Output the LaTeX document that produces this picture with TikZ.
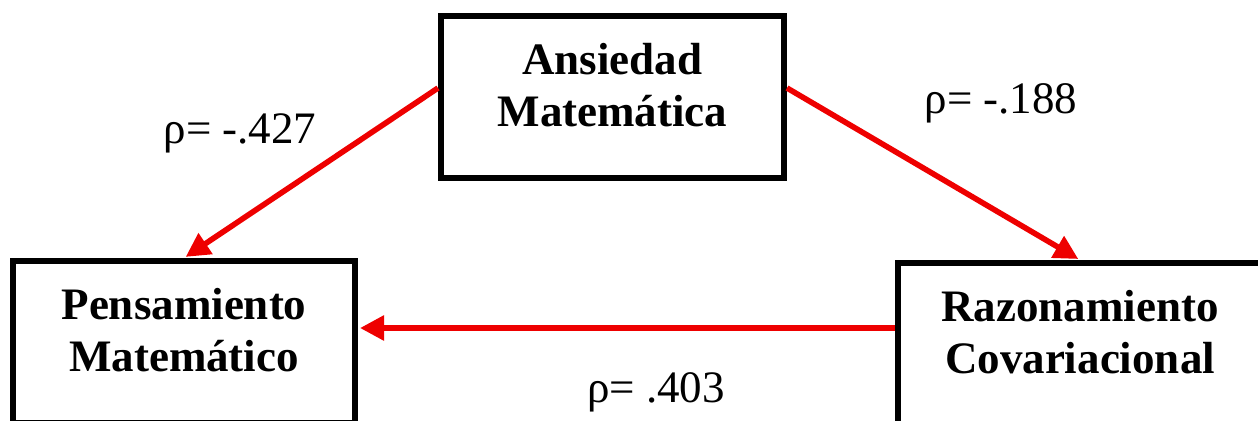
\documentclass[tikz,border=0pt]{standalone}
\usepackage{fontspec}
\setmainfont{Liberation Serif}
\usetikzlibrary{arrows.meta}
\definecolor{Ink}{HTML}{000000}
\definecolor{Wire}{HTML}{EE0000}

\begin{document}
\begin{tikzpicture}[
  x=0.5pt, y=-0.5pt,
  var/.style={draw=Ink, line width=3pt, minimum width=171.5pt, minimum height=81pt, inner sep=0pt, align=center, text depth=12pt, font=\fontsize{22.5}{26}\selectfont\bfseries},
  arrow/.style={-{Triangle[length=12pt, width=12pt]}, line width=2.8pt, draw=Wire, shorten >=1pt},
  coef/.style={anchor=base, inner sep=0pt, font=\fontsize{22.5}{26}\selectfont}
]
  \useasboundingbox (0,0) rectangle (1258,420);
  \clip (0,0) rectangle (1258,420);
  \node[var] (ansi) at (612.5,97) {Ansiedad\\Matemática};
  \node[var, minimum width=171pt] (pens) at (184,342) {Pensamiento\\Matemático};
  \node[var, minimum width=182pt] (razo) at (1080,344) {Razonamiento\\Covariacional};
  \coordinate (ansiL) at ([yshift=4.5pt]ansi.west);
  \coordinate (ansiR) at ([yshift=4.5pt]ansi.east);
  \coordinate (razoL) at ([yshift=8pt]razo.west);
  \draw[arrow] (ansiL) -- (pens.north);
  \draw[arrow] (ansiR) -- (razo.north);
  \draw[arrow] (razoL) -- (pens.east |- razoL);
  \node[coef] (rAP) at (240,143) {ρ= -.427};
  \node[coef] (rAR) at (1001,113) {ρ= -.188};
  \node[coef] (rRP) at (656,402) {ρ= .403};
\end{tikzpicture}
\end{document}
